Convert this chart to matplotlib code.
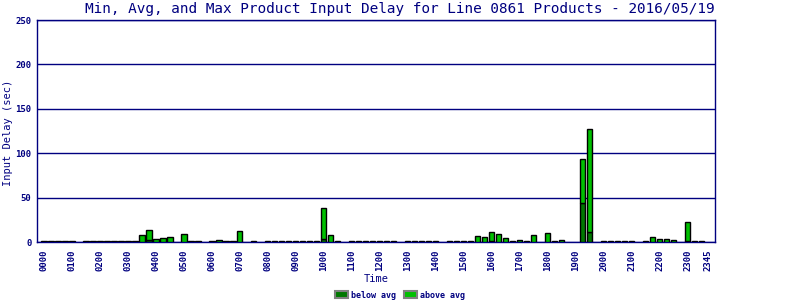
import matplotlib
matplotlib.use("Agg")
import matplotlib.pyplot as plt
from matplotlib.patches import Patch
import numpy as np

# 15 minute slots, 0000 .. 2345
times = [f"{h:02d}{m:02d}" for h in range(24) for m in (0, 15, 30, 45)]

# bar tops (sec), one per slot
max_delay = [
    1, 2, 1, 1, 1, 0, 1, 1, 1, 1, 1, 1, 1, 1, 8, 13.5,
    3.4, 4.5, 6, 0, 9, 1, 1, 0, 1, 2.5, 1, 1, 12.4, 0, 1, 0,
    1, 1, 1, 2, 2, 2, 2, 2, 38.3, 8, 1, 0, 1, 1, 1, 1,
    1, 1, 2, 0, 1, 1, 1, 1, 1, 0, 1, 1, 1, 1, 6.8, 5.6,
    11.3, 9, 4.5, 1, 2.2, 1, 7.9, 0, 10.3, 1, 2.4, 0, 0, 94, 127, 0,
    1, 1, 2, 1, 2, 0, 2, 5.8, 3.7, 3.7, 2.2, 0, 22.5, 1, 2, 0,
]

# dark part of each bar (below avg)
below_avg = [
    0.5, 0.5, 0.5, 0.5, 0.5, 0, 0.5, 0.5, 0.5, 0.5, 0.5, 0.5, 0.5, 0.5, 0.5, 2.5,
    0.5, 0.5, 0.5, 0, 0.5, 0.5, 0.5, 0, 0.5, 0.5, 0.5, 0.5, 0.5, 0, 0.5, 0,
    0.5, 0.5, 0.5, 0.5, 0.5, 0.5, 0.5, 0.5, 3.4, 0.5, 0.5, 0, 0.5, 0.5, 0.5, 0.5,
    0.5, 0.5, 0.5, 0, 0.5, 0.5, 0.5, 0.5, 0.5, 0, 0.5, 0.5, 0.5, 0.5, 0.5, 0.5,
    2, 0.5, 0.5, 0.5, 0.5, 0.5, 0.5, 0, 0.5, 0.5, 0.5, 0, 0, 44, 11.4, 0,
    0.5, 0.5, 0.5, 0.5, 0.5, 0, 0.5, 0.5, 0.5, 0.5, 0.5, 0, 1, 0.5, 0.5, 0,
]

tick_slots = list(range(0, 96, 4)) + [95]

navy = "#000080"
mono = "DejaVu Sans Mono"

max_delay = np.array(max_delay)
below_avg = np.array(below_avg)
above_avg = max_delay - below_avg
x = np.arange(len(times))
has_bar = max_delay > 0

fig = plt.figure(figsize=(8, 3), dpi=100)
ax = fig.add_axes([37 / 800, 57.7 / 300, 678 / 800, 222.3 / 300])

ax.bar(x[has_bar], below_avg[has_bar], width=0.8, color="#007800",
       edgecolor="black", linewidth=1, zorder=3)
ax.bar(x[has_bar], above_avg[has_bar], bottom=below_avg[has_bar], width=0.8,
       color="#00c000", edgecolor="black", linewidth=1, zorder=3)

ax.set_xlim(-0.97, 95.93)
ax.set_ylim(0, 250)
ax.set_yticks(range(0, 251, 50))
ax.yaxis.grid(True, color=navy, linewidth=1)
ax.set_axisbelow(True)
for s in ax.spines.values():
    s.set_color(navy)
    s.set_linewidth(1)

ax.set_xticks(tick_slots)
ax.set_xticklabels([times[i] for i in tick_slots], rotation=90,
                   fontsize=6.5, family=mono, fontweight="bold", color=navy)
for lbl in ax.get_yticklabels():
    lbl.set_family(mono)
    lbl.set_fontsize(6.5)
    lbl.set_fontweight("bold")
    lbl.set_color(navy)
ax.tick_params(axis="x", length=0, pad=5)
ax.tick_params(axis="y", length=0, pad=4)

ax.set_xlabel("Time", family=mono, fontsize=7.5, color=navy, labelpad=2)
fig.text(8 / 800, 1 - 133 / 300, "Input Delay (sec)", rotation=90,
         ha="center", va="center", family=mono, fontsize=7.5, color=navy)
fig.text(0.5, 1 - 9 / 300,
         "Min, Avg, and Max Product Input Delay for Line 0861 Products - 2016/05/19",
         ha="center", va="center", family=mono, fontsize=10.4, color=navy)

handles = [Patch(facecolor="#007800", edgecolor="#808080", linewidth=1.5, label="below avg"),
           Patch(facecolor="#00c000", edgecolor="#808080", linewidth=1.5, label="above avg")]
leg = fig.legend(handles=handles, loc="center", bbox_to_anchor=(0.5, 1 - 295 / 300),
                 ncol=2, frameon=False, prop={"family": mono, "size": 6, "weight": "bold"},
                 handlelength=1.6, handleheight=0.9, handletextpad=0.4, columnspacing=0.9)
for t in leg.get_texts():
    t.set_color(navy)

fig.savefig("out.png", dpi=100)
